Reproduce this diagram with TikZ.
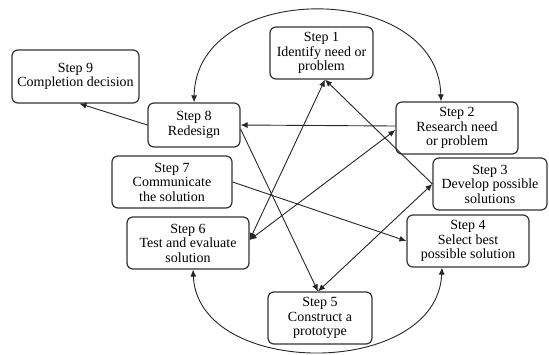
\documentclass[tikz,border=0pt]{standalone}
\usepackage{fontspec}
\setmainfont{Liberation Serif}
\usetikzlibrary{arrows.meta}
\begin{document}
\begin{tikzpicture}[x=1pt, y=-1pt, font=\fontsize{14}{14.5}\selectfont, >={Latex[length=7pt,width=6pt]},
  stepbox/.style={draw=black!80, line width=1.2pt, rounded corners=6pt, align=center, inner sep=0pt, fill=white},
  link/.style={draw=black!85, line width=0.9pt}]
\useasboundingbox (0,0) rectangle (549,354);
\node[stepbox, minimum width=103, minimum height=52] (s1) at (321.5,53) {Step 1\\Identify need or\\problem};
\node[stepbox, minimum width=122, minimum height=52] (s2) at (457,128) {Step 2\\Research need\\or problem};
\node[stepbox, minimum width=114, minimum height=52] (s3) at (490,184) {Step 3\\Develop possible\\solutions};
\node[stepbox, minimum width=122, minimum height=52] (s4) at (468,241) {Step 4\\Select best\\possible solution};
\node[stepbox, minimum width=104, minimum height=52] (s5) at (320,318) {Step 5\\Construct a\\prototype};
\node[stepbox, minimum width=122, minimum height=52] (s6) at (188,243) {Step 6\\Test and evaluate\\solution};
\node[stepbox, minimum width=120, minimum height=52] (s7) at (172,182) {Step 7\\Communicate\\the solution};
\node[stepbox, minimum width=92, minimum height=44] (s8) at (194,125) {Step 8\\Redesign};
\node[stepbox, minimum width=127, minimum height=53] (s9) at (75.5,76.5) {Step 9\\Completion decision};
% shared end points
\coordinate (p1) at ([xshift=3.5pt]s1.south);
\coordinate (p6) at ([yshift=3pt]s6.east);
\coordinate (p5) at ([xshift=-2pt]s5.north);
% arcs round the cycle
\draw[link, <->] (s8.north) .. controls (196,-20) and (438,-20) .. ([xshift=-16pt]s2.north);
\draw[link, <->] ([xshift=5pt]s6.south) .. controls (198,379) and (437,379) .. ([xshift=-26pt]s4.south);
% crossing links
\draw[link, ->] ([yshift=2pt]s2.west) -- (s8.east);
\draw[link, ->] (s8.west) -- ([xshift=4pt]s9.south);
\draw[link, <->] (p1) -- (p6);
\draw[link, ->] (s3.west) -- (p1);
\draw[link, <->] (p6) -- ([yshift=-2pt]s2.west);
\draw[link, ->] ([yshift=-4pt]s8.east) -- (p5);
\draw[link, <->] (s3.west) -- (p5);
\draw[link, ->] (s7.east) -- (s4.west);
\end{tikzpicture}
\end{document}
